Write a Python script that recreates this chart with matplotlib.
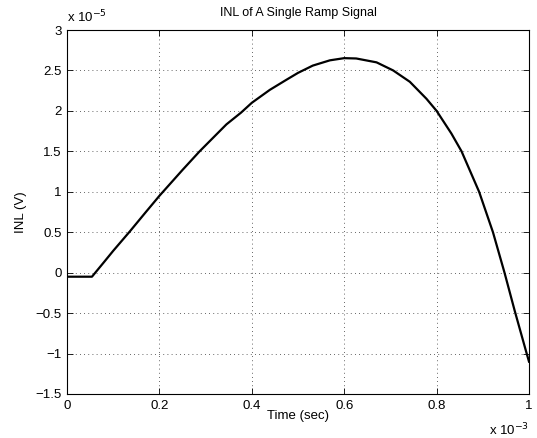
import matplotlib
matplotlib.use('Agg')
import matplotlib.pyplot as plt

# INL of a single ramp signal (x in 1e-3 s, y in 1e-5 V)
time_ms = [0, 0.054, 0.08, 0.1, 0.136, 0.17, 0.2, 0.25, 0.287, 0.345, 0.377,
           0.4, 0.439, 0.475, 0.5, 0.532, 0.569, 0.6, 0.626, 0.67, 0.706,
           0.742, 0.778, 0.8, 0.832, 0.854, 0.892, 0.922, 0.947, 0.969,
           0.994, 1.0]
inl = [-0.05, -0.05, 0.13, 0.27, 0.51, 0.745, 0.95, 1.27, 1.5, 1.833, 1.98,
       2.1, 2.26, 2.385, 2.47, 2.56, 2.625, 2.652, 2.648, 2.6, 2.5,
       2.36, 2.15, 2.0, 1.72, 1.5, 1.0, 0.5, 0.0, -0.47,
       -0.98, -1.1]

xticks = [0, 0.2, 0.4, 0.6, 0.8, 1]
xticklabels = ['0', '0.2', '0.4', '0.6', '0.8', '1']
yticks = [-1.5, -1, -0.5, 0, 0.5, 1, 1.5, 2, 2.5, 3]
yticklabels = ['\u22121.5', '\u22121', '\u22120.5', '0', '0.5', '1', '1.5', '2', '2.5', '3']

plt.rcParams['font.family'] = ['Liberation Sans', 'DejaVu Sans']
plt.rcParams['font.size'] = 9.5

fig = plt.figure(figsize=(5.37, 4.38), dpi=100)
ax = fig.add_axes([0.1248, 0.1005, 0.8603, 0.8310])

ax.plot(time_ms, inl, color='black', lw=1.6)

ax.set_xlim(0, 1)
ax.set_ylim(-1.5, 3)
ax.set_xticks(xticks)
ax.set_xticklabels(xticklabels)
ax.set_yticks(yticks)
ax.set_yticklabels(yticklabels)
ax.tick_params(direction='in', top=True, right=True, length=4, width=0.6, pad=4)
ax.grid(True, color='black', linestyle=(0, (1, 4)), linewidth=0.6, alpha=0.8)
for s in ax.spines.values():
    s.set_linewidth(0.8)

ax.set_title('INL of A Single Ramp Signal', fontsize=9, pad=10)
ax.set_xlabel('Time (sec)', labelpad=-1)
ax.set_ylabel('INL (V)', labelpad=6)

ax.text(0.0, 1.012, 'x 10$^{-5}$', transform=ax.transAxes, ha='left', va='bottom', fontsize=9.5)
ax.text(1.0, -0.075, 'x 10$^{-3}$', transform=ax.transAxes, ha='right', va='top', fontsize=9.5)

fig.savefig('out.png', dpi=100)
